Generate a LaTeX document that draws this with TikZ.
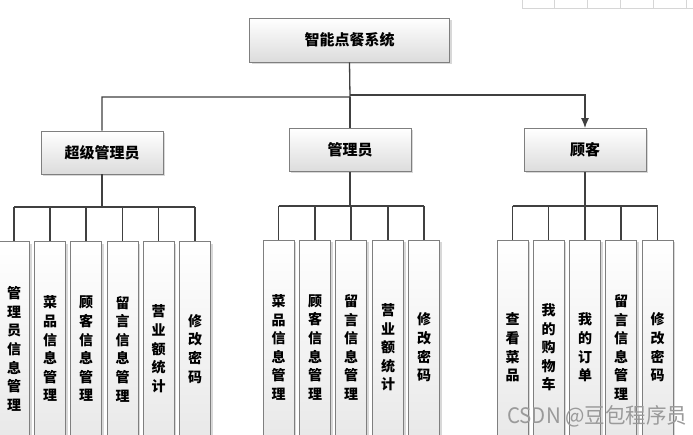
\documentclass[tikz,border=0pt]{standalone}
\usepackage{fontspec}
\usepackage{graphicx}
\setmainfont{Noto Sans CJK SC}
\usetikzlibrary{shadows,arrows.meta}
\definecolor{bordergray}{HTML}{7F7F7F}
\definecolor{linegray}{HTML}{404040}
\definecolor{boxbot}{HTML}{DCDCDC}
\definecolor{wmgray}{HTML}{9A9A9A}
\definecolor{tbgray}{HTML}{D6D6D6}
\definecolor{tbgreen}{HTML}{2BC46F}
\tikzset{
 base/.style={draw=bordergray, line width=0.8pt, top color=white, bottom color=boxbot,
   drop shadow={shadow xshift=2pt, shadow yshift=-2pt, fill=black!30, opacity=0.5},
   inner sep=0pt, font=\fontsize{15}{18}\selectfont\bfseries},
 topbox/.style={base, minimum width=200pt, minimum height=44pt},
 midbox/.style={base, minimum width=122pt, minimum height=43pt},
 leaf/.style={base, minimum width=31pt, minimum height=214pt, anchor=north, align=center,
   font=\fontsize{14}{18.6}\selectfont\bfseries, bottom color=boxbot!70},
 conn/.style={draw=linegray, line width=1.3pt},
 tb/.style={draw=tbgray, line width=1pt},
}
\begin{document}
\begin{tikzpicture}[x=1pt,y=-1pt]
\clip (0,0) rectangle (693,435);
\fill[white] (0,0) rectangle (693,435);
% toolbar remnant
\coordinate (tb0) at (522,-2);
\coordinate (tb1) at (522,9);
\coordinate (tb2) at (695,9);
\draw[tb] (tb0) -- (tb1) -- (tb2);
\foreach \x in {554,587,620,653,686} \draw[tb] (\x,-2) -- (\x,9);
% top
\node[topbox] (sys) at (349.5,40) {智能点餐系统};
\node[midbox] (sup) at (102,152.5) {超级管理员};
\node[midbox] (adm) at (350,150) {管理员};
\node[midbox] (cus) at (585,150) {顾客};
\coordinate (jl) at (350,97);
\coordinate (jr) at (350,95);
\draw[conn] (sys.south) -- (jl) -| (sup.north);
\draw[conn] (jl) -- (adm.north);
\draw[conn,-{Latex[length=10pt,width=8pt]}] (jr) -| (cus.north);
% left group leaves
\foreach \x/\n/\t in {14/a1/{管\\理\\员\\信\\息\\管\\理},50/a2/{菜\\品\\信\\息\\管\\理},86/a3/{顾\\客\\信\\息\\管\\理},122.5/a4/{留\\言\\信\\息\\管\\理},158.5/a5/{营\\业\\额\\统\\计},195/a6/{修\\改\\密\\码}}
  \node[leaf] (\n) at (\x,241.5) {\t};
\foreach \x/\n/\t in {278.5/b1/{菜\\品\\信\\息\\管\\理},315/b2/{顾\\客\\信\\息\\管\\理},351/b3/{留\\言\\信\\息\\管\\理},388/b4/{营\\业\\额\\统\\计},424/b5/{修\\改\\密\\码}}
  \node[leaf] (\n) at (\x,240) {\t};
\foreach \x/\n/\t in {512.5/c1/{查\\看\\菜\\品},548.5/c2/{我\\的\\购\\物\\车},585/c3/{我\\的\\订\\单},621/c4/{留\\言\\信\\息\\管\\理},657.5/c5/{修\\改\\密\\码}}
  \node[leaf] (\n) at (\x,240) {\t};
% buses
\coordinate (busa) at (0,207);
\coordinate (busb) at (0,206);
\coordinate (busc) at (0,206);
\draw[conn] (sup.south) -- (sup.south |- busa);
\draw[conn] (a1.north |- busa) -- (a6.north |- busa);
\foreach \n in {a1,a2,a3,a4,a5,a6} \draw[conn] (\n.north |- busa) -- (\n.north);
\draw[conn] (adm.south) -- (adm.south |- busb);
\draw[conn] (b1.north |- busb) -- (b5.north |- busb);
\foreach \n in {b1,b2,b3,b4,b5} \draw[conn] (\n.north |- busb) -- (\n.north);
\draw[conn] (cus.south) -- (cus.south |- busc);
\draw[conn] (c1.north |- busc) -- (c5.north |- busc);
\foreach \n in {c1,c2,c3,c4,c5} \draw[conn] (\n.north |- busc) -- (\n.north);
% watermark
\node[text=wmgray, inner sep=0pt, anchor=south west] (wm) at (507,427) {\resizebox{180pt}{18pt}{CSDN @豆包程序员}};
\end{tikzpicture}
\end{document}
